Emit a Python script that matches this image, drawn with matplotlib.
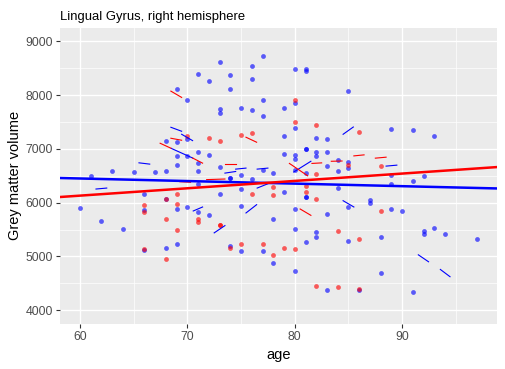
import matplotlib
matplotlib.use("Agg")
import matplotlib.pyplot as plt
import numpy as np

plt.rcParams['font.family'] = ['Liberation Sans', 'DejaVu Sans']

title = "Lingual Gyrus, right hemisphere"
x_label = "age"
y_label = "Grey matter volume"
x_ticks = [60, 70, 80, 90]
y_ticks = [4000, 5000, 6000, 7000, 8000, 9000]

blue_age = [71, 69, 70, 68, 69, 70, 71, 69, 70, 71, 69, 63, 65, 67, 68, 71, 61,
            73, 77, 76, 74, 72, 76, 74, 80, 81, 81, 85, 77, 73, 73, 75, 76, 79,
            77, 80, 80, 79, 82, 83, 72, 73, 79, 80, 80, 81, 81, 82, 82, 83, 83,
            84, 84, 85, 85, 75, 77, 78, 80, 81, 89, 91, 93, 66, 66, 68, 69, 68,
            69, 70, 71, 60, 62, 64, 66, 71, 74, 74, 76, 75, 73, 79, 81, 81, 84,
            75, 72, 80, 78, 83, 85, 80, 82, 82, 85, 81, 74, 75, 77, 78, 80, 83,
            89, 89, 91, 92, 87, 87, 89, 90, 88, 92, 92, 93, 94, 97, 88, 86, 91]
blue_vol = [8389, 8117, 7913, 7148, 7130, 7185, 6944, 6870, 6870, 6746, 6703, 6593, 6574, 6574, 6593, 6593, 6500,
            8617, 8728, 8543, 8376, 8265, 8302, 8117, 8487, 8480, 8455, 8080, 7913, 7746, 7672, 7765, 7728, 7765,
            7617, 7852, 7395, 7246, 7209, 7185, 6894, 6672, 6913, 6889, 6815, 7005, 6995, 6950, 6876, 6950, 6691,
            6802, 6598, 6765, 6654, 6524, 6611, 6561, 6611, 6561, 7376, 7358, 7246, 6154, 5857, 6074, 5876, 5154,
            5228, 5913, 5833, 5894, 5654, 5506, 5117, 6346, 6465, 6450, 6432, 6246, 6154, 6191, 6110, 6100, 6265,
            5932, 5765, 5876, 5704, 5784, 5913, 5519, 5450, 5357, 5283, 5265, 5191, 5098, 5098, 4876, 4728, 4376,
            6518, 6339, 6394, 6487, 6043, 5987, 5876, 5839, 5357, 5469, 5413, 5524, 5413, 5320, 4691, 4376, 4339]

red_age = [70, 80, 80, 82, 72, 73, 75, 76, 85, 82, 86, 88, 66, 66, 68, 68, 69, 69, 69,
           68, 71, 71, 66, 76, 78, 78, 81, 81, 82, 73, 73, 84, 75, 77, 74, 79, 80, 78,
           82, 84, 88, 86, 86]
red_vol = [7246, 7913, 7506, 7450, 7209, 7154, 7265, 7302, 6709, 6537, 7320, 6691, 5950, 5833, 6074, 5704, 6154, 5968, 5487,
           4950, 5691, 5635, 5135, 6154, 6283, 6135, 6302, 6191, 6074, 5590, 5584, 5469, 5228, 5228, 5154, 5154, 5135, 5024,
           4450, 4432, 5839, 5320, 4394]

# individual trajectories: start age, end age, start volume, end volume
red_seg_age0 = [68.47, 68.47, 67.47, 70.5, 75.46, 73.5, 79.5, 81.6, 83.4, 85.5, 87.5, 80.5, 71.8, 69.3]
red_seg_age1 = [69.47, 69.47, 68.47, 71.42, 76.45, 74.5, 81.2, 82.5, 84.4, 86.45, 88.5, 81.5, 73.5, 70.3]
red_seg_vol0 = [8074, 7198, 7105, 6830, 7217, 6717, 6730, 6730, 6770, 6870, 6828, 5883, 6429, 6390]
red_seg_vol1 = [7957, 7161, 7013, 6735, 7124, 6717, 6500, 6740, 6775, 6889, 6846, 5765, 6440, 6380]

blue_seg_age0 = [68.47, 69.47, 68.5, 65.5, 84.5, 73.5, 74.5, 76.5, 79.9, 88.5, 61.5, 70.55, 76.5, 75.46, 72.5, 84.5, 91.5, 93.55]
blue_seg_age1 = [69.47, 70.49, 70.5, 66.5, 85.45, 74.5, 75.46, 77.5, 81.5, 89.5, 62.5, 71.42, 77.5, 76.45, 73.5, 85.5, 92.45, 94.45]
blue_seg_vol0 = [7402, 7272, 7010, 6741, 7272, 6550, 6624, 6624, 6570, 6680, 6254, 5846, 6272, 5809, 5439, 6037, 5031, 4759]
blue_seg_vol1 = [7328, 7154, 6830, 6717, 7407, 6580, 6643, 6643, 6770, 6698, 6272, 5920, 6352, 5963, 5574, 5920, 4902, 4624]

# fitted lines: intercept at age 60 and slope per year
blue_fit = (6450, -4.77)
red_fit = (6131, 13.68)

x_lim = (58.15, 98.85)
y_lim = (3745, 9253)

W, H = 505, 369
fig = plt.figure(figsize=(W / 100, H / 100), dpi=100)
fig.patch.set_facecolor('white')
ax = fig.add_axes([60 / W, 1 - 324 / H, 437.3 / W, (324 - 27.7) / H])
ax.set_facecolor('#EBEBEB')
for s in ax.spines.values():
    s.set_visible(False)

ax.set_xlim(*x_lim)
ax.set_ylim(*y_lim)
ax.set_xticks(x_ticks)
ax.set_yticks(y_ticks)
ax.set_xticks([65, 75, 85, 95], minor=True)
ax.set_yticks([4500, 5500, 6500, 7500, 8500], minor=True)
ax.grid(which='major', color='white', linewidth=1.0)
ax.grid(which='minor', color='white', linewidth=0.5)
ax.set_axisbelow(True)
ax.tick_params(which='major', length=2.8, width=0.8, color='#333333',
               labelsize=8.8, labelcolor='#4D4D4D', pad=2.5)
ax.tick_params(which='minor', length=0)

ax.scatter(blue_age, blue_vol, s=12, color='#0000FF', alpha=0.62, linewidths=0, zorder=2)
ax.scatter(red_age, red_vol, s=12, color='#FF0000', alpha=0.62, linewidths=0, zorder=2)

for a0, a1, v0, v1 in zip(blue_seg_age0, blue_seg_age1, blue_seg_vol0, blue_seg_vol1):
    ax.plot([a0, a1], [v0, v1], color='#0000FF', linewidth=0.8, zorder=3)
for a0, a1, v0, v1 in zip(red_seg_age0, red_seg_age1, red_seg_vol0, red_seg_vol1):
    ax.plot([a0, a1], [v0, v1], color='#FF0000', linewidth=0.8, zorder=3)

xs = np.linspace(x_lim[0], x_lim[1], 50)
ax.plot(xs, blue_fit[0] + blue_fit[1] * (xs - 60), color='#0000FF', linewidth=1.8, zorder=4)
ax.plot(xs, red_fit[0] + red_fit[1] * (xs - 60), color='#FF0000', linewidth=1.8, zorder=4)

ax.set_xlabel(x_label, fontsize=10.5, color='black', labelpad=3)
ax.set_ylabel(y_label, fontsize=10.5, color='black', labelpad=2)
fig.text(60 / W, 1 - 17 / H, title, fontsize=9.4, color='black', va='center', ha='left')

fig.savefig('out.png', dpi=100)
